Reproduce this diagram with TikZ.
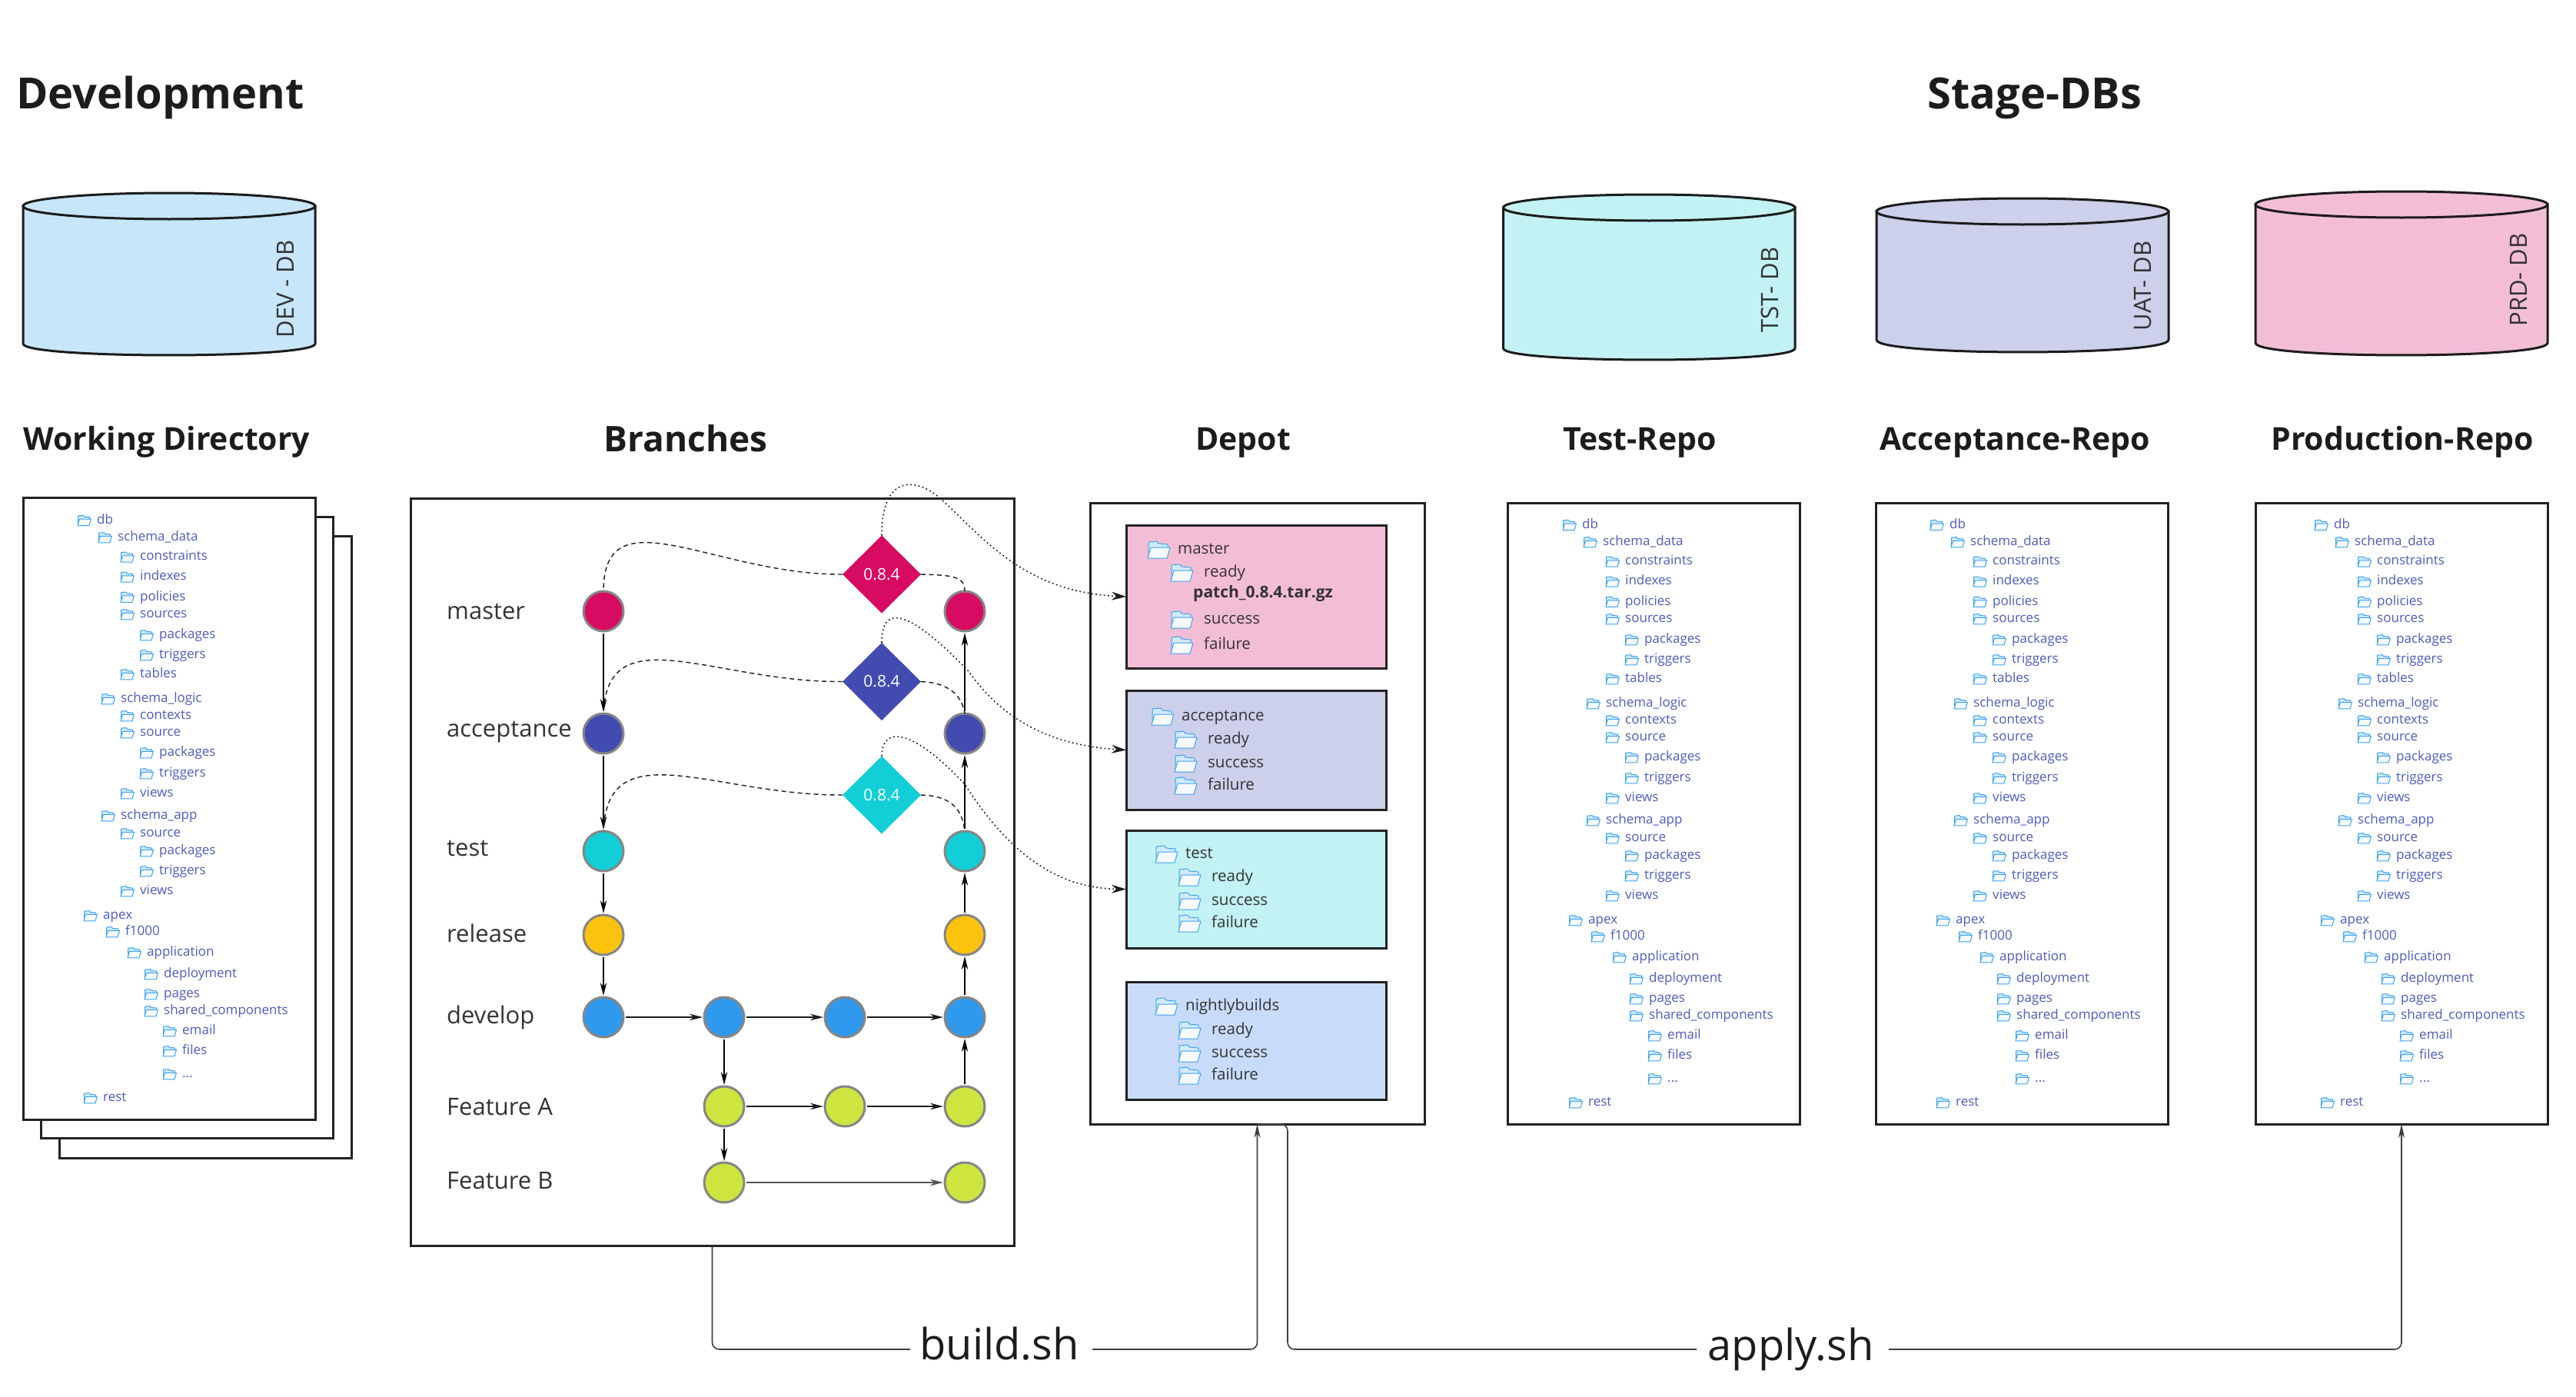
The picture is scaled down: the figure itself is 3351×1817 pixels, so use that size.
\documentclass[tikz,border=0pt]{standalone}
\usepackage{fontspec}
\setmainfont{Open Sans}
\usetikzlibrary{arrows.meta,shapes.geometric}
\definecolor{ink}{HTML}{1C1C1C}
\definecolor{boxline}{HTML}{222222}
\definecolor{treeblue}{HTML}{4F5BBA}
\definecolor{devfill}{HTML}{C8E6FA}
\definecolor{pinkfill}{HTML}{F4BDD6}
\definecolor{acctfill}{HTML}{CDD0EB}
\definecolor{testfill}{HTML}{C3F2F4}
\definecolor{nightfill}{HTML}{C8DCFA}
\definecolor{cpink}{HTML}{D80B62}
\definecolor{cindigo}{HTML}{424CB0}
\definecolor{ccyan}{HTML}{12CED6}
\definecolor{camber}{HTML}{FCC30E}
\definecolor{cblue}{HTML}{2F99EE}
\definecolor{clime}{HTML}{CDE53E}
\definecolor{fline}{HTML}{3AA3F0}
\definecolor{fback}{HTML}{D2EAFA}
\definecolor{ffront}{HTML}{F7FAFD}
\newcommand{\threedots}{...}
\tikzset{
  panel/.style={draw=boxline,line width=3pt,fill=white,anchor=north west,inner sep=0pt,outer sep=0pt},
  titletext/.style={font=\fontsize{56}{60}\bfseries\selectfont,text=ink,anchor=base,inner sep=0pt},
  headtext/.style={font=\fontsize{41}{46}\bfseries\selectfont,text=ink,anchor=base,inner sep=0pt},
  branchtext/.style={font=\fontsize{31}{34}\selectfont,text=ink!90,anchor=base west,inner sep=0pt},
  treetext/.style={font=\fontsize{17}{20}\selectfont,text=treeblue,anchor=base west,inner sep=0pt},
  depottext/.style={font=\fontsize{20.5}{24}\selectfont,text=ink!90,anchor=base west,inner sep=0pt},
  scripttext/.style={font=\fontsize{56}{60}\selectfont,text=ink,anchor=base,inner sep=0pt},
  dbtext/.style={font=\fontsize{31}{34}\selectfont,text=ink!90,rotate=90,inner sep=0pt},
  commit/.style={circle,draw=gray!95,line width=3pt,minimum size=52pt,inner sep=0pt,outer sep=0pt},
  tag/.style={diamond,shape aspect=1,minimum width=102pt,minimum height=101pt,inner sep=0pt,outer sep=0pt,text=white,font=\fontsize{21}{24}\selectfont},
  flow/.style={line width=1.3pt,draw=black,-{Stealth[length=17pt,width=8.5pt]},shorten <=3pt,shorten >=2pt},
  flowthick/.style={flow,line width=1.8pt,draw=ink},
  tagdash/.style={line width=1.4pt,draw=ink,dash pattern=on 6pt off 4.5pt},
  tagdot/.style={line width=1.6pt,draw=ink,dash pattern=on 1.8pt off 3.5pt,-{Stealth[length=19pt,width=11pt]}},
  script/.style={line width=1.6pt,draw=ink!85,rounded corners=9pt},
  scriptarrow/.style={script,-{Stealth[length=18pt,width=8pt]}},
  cyl/.style={draw=ink,line width=3pt},
  pics/folder/.style={code={
    \path[draw=fline,fill=fback,line width=1pt,line join=round]
      (1,22) -- (1,2) -- (12,1) -- (14,4) -- (26,5) -- (26,10) -- cycle;
    \path[draw=fline,fill=ffront,line width=1pt,line join=round]
      (0,23) -- (4,9) -- (29,9) -- (25,23) -- cycle;
  }}
}
\newcommand{\dbcyl}[8]{% x1,x2,ytop,ybottom,ry,bry,fill,unused
  \path[cyl,fill=#7] (#1,#3) -- (#1,#4) .. controls (#1,{#4+1.33*#6}) and (#2,{#4+1.33*#6}) .. (#2,#4) -- (#2,#3) -- cycle;
  \path[cyl,fill=#7] ({(#1+#2)/2},#3) circle [x radius={(#2-#1)/2*1pt},y radius={#5*1pt}];
}
\newcommand{\repotree}[3]{%
  \foreach \tx/\ty/\tl [count=\n] in {
    96/27.7/db,123/50/schema\_data,152/75.4/constraints,152/101.4/indexes,152/127.5/policies,152/150/sources,
    177/177/packages,177/203/triggers,152/228/tables,127/260/schema\_logic,152/282/contexts,152/304/source,
    177/330/packages,177/357/triggers,152/383/views,127/412/schema\_app,152/435/source,177/458/packages,
    177/484/triggers,152/510/views,104/542/apex,133/563/f1000,161/590/application,183/618/deployment,
    183/644/pages,183/666/shared\_components,207/692/email,207/718/files,207/748/\threedots,104/779/rest}{
    \pic[scale=.6] at ({#2+\tx-25},{#3+\ty-7}) {folder};
    \node[treetext] (#1-\n) at ({#2+\tx},{#3+\ty+4.5}) {\tl};
  }%
}
\newcommand{\depotrow}[6]{% name, iconx, texty, textx, label, style
  \pic at (#2,{#3-10}) {folder};
  \node[#6] (#1) at (#4,{#3+7}) {#5};
}
\begin{document}
\begin{tikzpicture}[x=1pt,y=-1pt]
\useasboundingbox (0,0) rectangle (3351,1817);

% titles
\node[titletext,anchor=base west] (tdev) at (21,142) {Development};
\node[titletext] (tstage) at (2647,142) {Stage-DBs};

% databases
\dbcyl{30}{410}{268}{447}{17}{15}{devfill}{}
\node[dbtext] (devdb) at (371,376) {DEV - DB};
\dbcyl{1955.5}{2335}{270}{453}{17}{15}{testfill}{}
\node[dbtext] (tstdb) at (2302,377) {TST- DB};
\dbcyl{2441}{2821}{275}{442}{17}{16}{acctfill}{}
\node[dbtext] (uatdb) at (2788,372) {UAT- DB};
\dbcyl{2934}{3314}{266}{446}{17}{16}{pinkfill}{}
\node[dbtext] (prddb) at (3276,364) {PRD- DB};

% column headings
\node[headtext] (hwd) at (217,585) {Working Directory};
\node[headtext,font=\fontsize{46}{50}\bfseries\selectfont] (hbr) at (892,587) {Branches};
\node[headtext] (hdp) at (1617,585) {Depot};
\node[headtext] (htr) at (2133,585) {Test-Repo};
\node[headtext] (har) at (2621,585) {Acceptance-Repo};
\node[headtext] (hpr) at (3125,585) {Production-Repo};

% working directory stack
\node[panel,minimum width=380pt,minimum height=809pt] (wd3) at (77,697) {};
\node[panel,minimum width=380pt,minimum height=808pt] (wd2) at (53,672) {};
\node[panel,minimum width=380pt,minimum height=809pt] (wd1) at (30,647) {};
\repotree{wt}{30}{649}

% repos
\node[panel,minimum width=380pt,minimum height=808pt] (trepo) at (1961.5,654) {};
\repotree{tr}{1962}{655}
\node[panel,minimum width=380pt,minimum height=808pt] (arepo) at (2440.5,654) {};
\repotree{ar}{2440}{655}
\node[panel,minimum width=380pt,minimum height=808pt] (prepo) at (2934,654) {};
\repotree{pr}{2940}{655}

% branches panel
\node[panel,minimum width=785pt,minimum height=972pt] (branches) at (534,648) {};
\node[branchtext] (lm) at (581,805) {master};
\node[branchtext] (la) at (581,958) {acceptance};
\node[branchtext] (lt) at (581,1113) {test};
\node[branchtext] (lr) at (581,1225) {release};
\node[branchtext] (ld) at (581,1331) {develop};
\node[branchtext] (lfa) at (581,1450) {Feature A};
\node[branchtext] (lfb) at (581,1546) {Feature B};

\node[commit,fill=cpink] (m1) at (785,795) {};
\node[commit,fill=cpink] (m4) at (1255,795) {};
\node[commit,fill=cindigo] (a1) at (785,954) {};
\node[commit,fill=cindigo] (a4) at (1255,954) {};
\node[commit,fill=ccyan] (t1) at (785,1107) {};
\node[commit,fill=ccyan] (t4) at (1255,1107) {};
\node[commit,fill=camber] (r1) at (785,1216) {};
\node[commit,fill=camber] (r4) at (1255,1216) {};
\node[commit,fill=cblue] (d1) at (785,1323) {};
\node[commit,fill=cblue] (d2) at (942,1323) {};
\node[commit,fill=cblue] (d3) at (1099,1323) {};
\node[commit,fill=cblue] (d4) at (1255,1323) {};
\node[commit,fill=clime] (fa1) at (942,1439) {};
\node[commit,fill=clime] (fa2) at (1099,1439) {};
\node[commit,fill=clime] (fa3) at (1255,1439) {};
\node[commit,fill=clime] (fb1) at (942,1538) {};
\node[commit,fill=clime] (fb4) at (1255,1538) {};

\node[tag,fill=cpink] (tg1) at (1147,747) {0.8.4};
\node[tag,fill=cindigo] (tg2) at (1147,886.5) {0.8.4};
\node[tag,fill=ccyan] (tg3) at (1147,1034) {0.8.4};

\draw[flow] (m1) -- (a1);
\draw[flow] (a1) -- (t1);
\draw[flow] (t1) -- (r1);
\draw[flow] (r1) -- (d1);
\draw[flowthick] (d1) -- (d2);
\draw[flowthick] (d2) -- (d3);
\draw[flowthick] (d3) -- (d4);
\draw[flow] (d2) -- (fa1);
\draw[flowthick] (fa1) -- (fa2);
\draw[flowthick] (fa2) -- (fa3);
\draw[flow] (fa1) -- (fb1);
\draw[flowthick,line width=2.8pt,draw=ink!75] (fb1) -- (fb4);
\draw[flow] (fa3) -- (d4);
\draw[flow] (d4) -- (r4);
\draw[flow] (r4) -- (t4);
\draw[flow] (t4) -- (a4);
\draw[flow] (a4) -- (m4);

% depot
\node[panel,minimum width=435pt,minimum height=808pt] (depot) at (1418,654) {};
\node[panel,fill=pinkfill,minimum width=338pt,minimum height=186pt] (bm) at (1465,683) {};
\node[panel,fill=acctfill,minimum width=338pt,minimum height=155pt] (ba) at (1465,898) {};
\node[panel,fill=testfill,minimum width=338pt,minimum height=153pt] (bt) at (1465,1080) {};
\node[panel,fill=nightfill,minimum width=338pt,minimum height=153pt] (bn) at (1465,1277) {};

\depotrow{dm0}{1493}{713}{1532}{master}{depottext}
\depotrow{dm1}{1523}{743}{1566}{ready}{depottext}
\node[depottext,font=\fontsize{21}{24}\bfseries\selectfont] (dm2) at (1552,777) {patch\_0.8.4.tar.gz};
\depotrow{dm3}{1523}{804}{1566}{success}{depottext}
\depotrow{dm4}{1523}{837}{1566}{failure}{depottext}
\depotrow{da0}{1498}{930}{1537}{acceptance}{depottext}
\depotrow{da1}{1528}{960}{1571}{ready}{depottext}
\depotrow{da2}{1528}{991}{1571}{success}{depottext}
\depotrow{da3}{1528}{1020}{1571}{failure}{depottext}
\depotrow{dt0}{1503}{1109}{1542}{test}{depottext}
\depotrow{dt1}{1533}{1139}{1576}{ready}{depottext}
\depotrow{dt2}{1533}{1170}{1576}{success}{depottext}
\depotrow{dt3}{1533}{1199}{1576}{failure}{depottext}
\depotrow{dn0}{1503}{1307}{1542}{nightlybuilds}{depottext}
\depotrow{dn1}{1533}{1338}{1576}{ready}{depottext}
\depotrow{dn2}{1533}{1368}{1576}{success}{depottext}
\depotrow{dn3}{1533}{1397}{1576}{failure}{depottext}

% tag connectors
\draw[tagdash] (tg1.west) .. controls (930,748) and (785,640) .. (m1.north);
\draw[tagdash] (tg1.east) .. controls (1240,748) and (1255,750) .. (m4.north);
\draw[tagdash] (tg2.west) .. controls (930,888) and (790,800) .. (785,928);
\draw[tagdash] (tg2.east) .. controls (1240,888) and (1252,910) .. (a4.north);
\draw[tagdash] (tg3.west) .. controls (930,1035) and (790,950) .. (785,1081);
\draw[tagdash] (tg3.east) .. controls (1240,1035) and (1252,1055) .. (t4.north);

\coordinate (mid1) at (1223,648);
\coordinate (mid2) at (1260,873);
\coordinate (mid3) at (1255,1020);
\draw[tagdot] (tg1.north) .. controls (1147,618) and (1190,620) .. (mid1) .. controls (1275,695) and (1330,770) .. (bm.west);
\draw[tagdot] (tg2.north) .. controls (1147,790) and (1175,785) .. (mid2) .. controls (1310,945) and (1380,970) .. (ba.west);
\draw[tagdot] (tg3.north) .. controls (1147,945) and (1185,945) .. (mid3) .. controls (1300,1090) and (1360,1155) .. (bt.west);

% build.sh and apply.sh
\node[scripttext] (build) at (1300,1768) {build.sh};
\node[scripttext] (apply) at (2329.5,1769) {apply.sh};
\coordinate (buildL) at (1184,1755);
\coordinate (buildR) at (1421,1755);
\coordinate (applyL) at (2207,1755);
\coordinate (applyR) at (2457,1755);
\coordinate (applyT) at (1675,1462);
\coordinate (applyB) at (1675,1755);
\draw[script] (branches.south) |- (buildL);
\draw[scriptarrow] (buildR) -| (depot.south);
\draw[script] (depot.south) -- (applyT) -- (applyB) -- (applyL);
\draw[scriptarrow] (applyR) -| (prepo.south);
\end{tikzpicture}
\end{document}
